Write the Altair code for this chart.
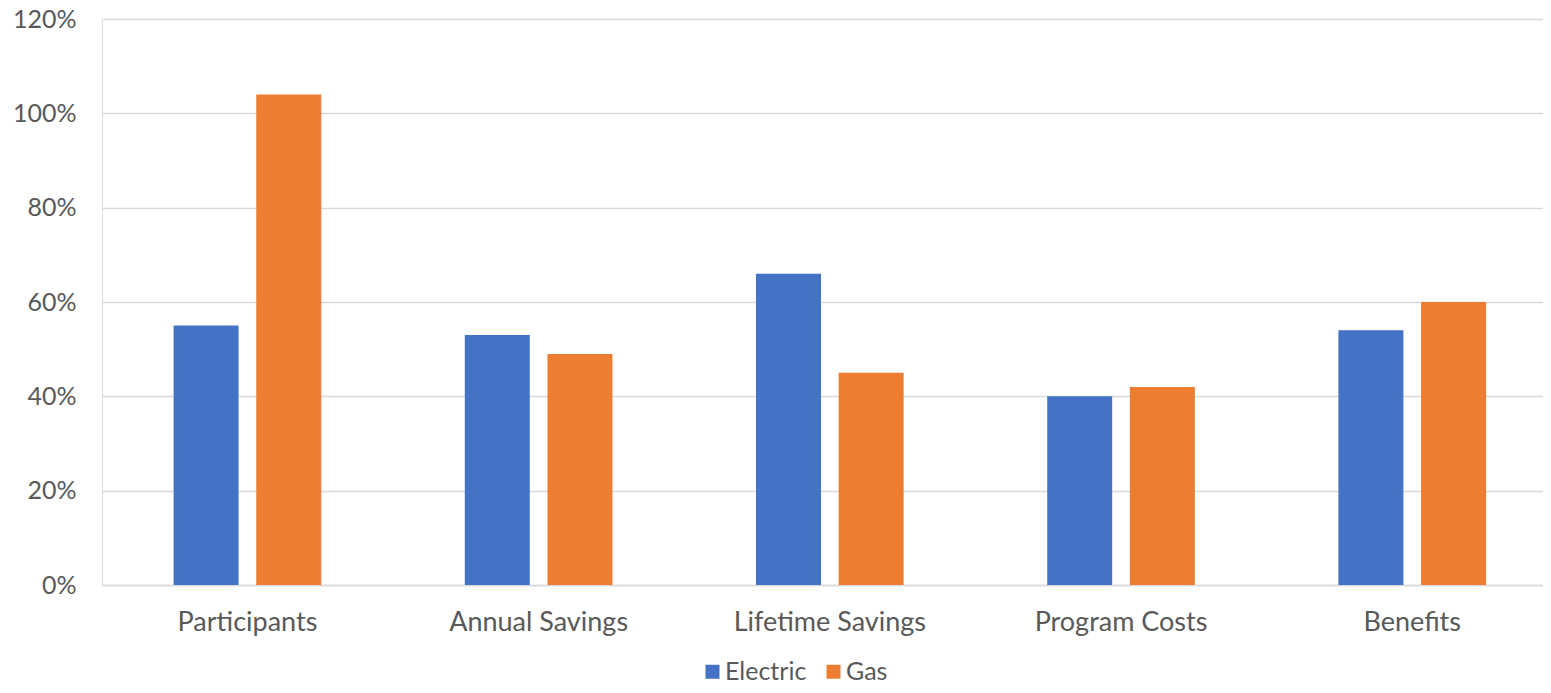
import altair as alt
import pandas as pd

categories = ["Participants", "Annual Savings", "Lifetime Savings", "Program Costs", "Benefits"]
electric = [0.55, 0.53, 0.66, 0.40, 0.54]
gas = [1.04, 0.49, 0.45, 0.42, 0.60]
series = ["Electric", "Gas"]
colors = ["#4472C4", "#ED7D31"]

rows = []
for c, e, g in zip(categories, electric, gas):
    rows.append({"category": c, "series": "Electric", "value": e})
    rows.append({"category": c, "series": "Gas", "value": g})
df = pd.DataFrame(rows)

font = "Lato"
fs = 25

chart = alt.Chart(df).mark_bar().encode(
    x=alt.X("category:N", sort=categories, title=None,
            scale=alt.Scale(paddingInner=0.493, paddingOuter=0.2207, align=0.557),
            axis=alt.Axis(labelAngle=0, labelFontSize=27, labelColor="#595959", labelFont=font,
                          labelPadding=24, labelLimit=400, ticks=False, domainColor="#d9d9d9",
                          domainWidth=1.5, grid=False)),
    xOffset=alt.XOffset("series:N", sort=series, scale=alt.Scale(paddingInner=0.214, paddingOuter=0)),
    y=alt.Y("value:Q", title=None,
            scale=alt.Scale(domain=[0, 1.2], nice=False),
            axis=alt.Axis(format=".0%", values=[0, 0.2, 0.4, 0.6, 0.8, 1.0, 1.2],
                          labelFontSize=fs, labelColor="#595959", labelFont=font,
                          labelPadding=26, ticks=False, domain=False,
                          gridColor="#d9d9d9", gridWidth=1.5)),
    color=alt.Color("series:N", sort=series, title=None,
                    scale=alt.Scale(domain=series, range=colors),
                    legend=alt.Legend(orient="none", legendX=598, legendY=640, direction="horizontal",
                                      symbolType="square", symbolSize=196, symbolStrokeWidth=0,
                                      labelFontSize=fs, labelColor="#595959", labelFont=font,
                                      columnPadding=14, labelOffset=0)),
).properties(
    width=1441, height=566,
    autosize=alt.AutoSizeParams(type="none"),
    padding={"left": 94, "top": 11, "right": 0, "bottom": 100},
).configure_view(strokeWidth=0).configure(background="white")

chart.save("out.html", embed_options={"renderer": "svg", "actions": False})
